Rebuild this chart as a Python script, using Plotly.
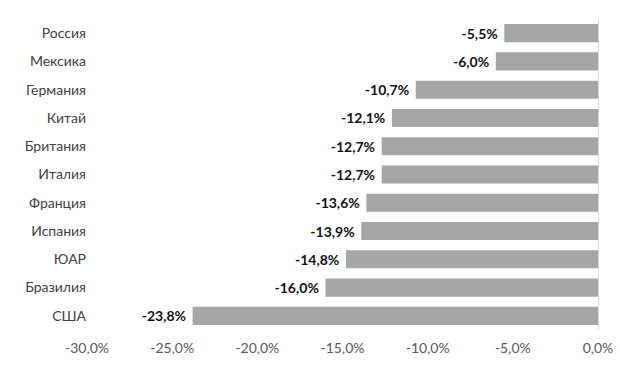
import plotly.graph_objects as go

countries = ["Россия", "Мексика", "Германия", "Китай", "Британия", "Италия",
             "Франция", "Испания", "ЮАР", "Бразилия", "США"]
values = [-5.5, -6.0, -10.7, -12.1, -12.7, -12.7, -13.6, -13.9, -14.8, -16.0, -23.8]
tick_vals = [-30, -25, -20, -15, -10, -5, 0]
tick_text = ["-30,0%", "-25,0%", "-20,0%", "-15,0%", "-10,0%", "-5,0%", "0,0%"]
value_labels = [("%.1f%%" % v).replace(".", ",") for v in values]

fig = go.Figure(go.Bar(
    x=values, y=countries, orientation="h",
    marker=dict(color="#a6a6a6", line=dict(width=0)),
    text=value_labels, texttemplate="<b>%{text}</b>\u00a0", textposition="outside",
    textfont=dict(color="#111111", size=14, family="Lato"),
    cliponaxis=False, width=0.64,
))

fig.update_layout(
    width=620, height=372,
    margin=dict(l=87, r=22, t=19, b=42, autoexpand=False),
    paper_bgcolor="white", plot_bgcolor="white",
    font=dict(family="Lato", size=14, color="#404040"),
    showlegend=False,
    xaxis=dict(range=[-30, 0], tickvals=tick_vals, ticktext=tick_text, automargin=False,
               showgrid=False, zeroline=True, zerolinecolor="#d9d9d9", zerolinewidth=1,
               showline=False, tickfont=dict(color="#595959", size=14), ticks="",
               ticklabelstandoff=8),
    yaxis=dict(autorange="reversed", showgrid=False, zeroline=False, showline=False,
               automargin=False, ticks="", tickfont=dict(color="#404040", size=14)),
)

fig.write_html("out.html")
